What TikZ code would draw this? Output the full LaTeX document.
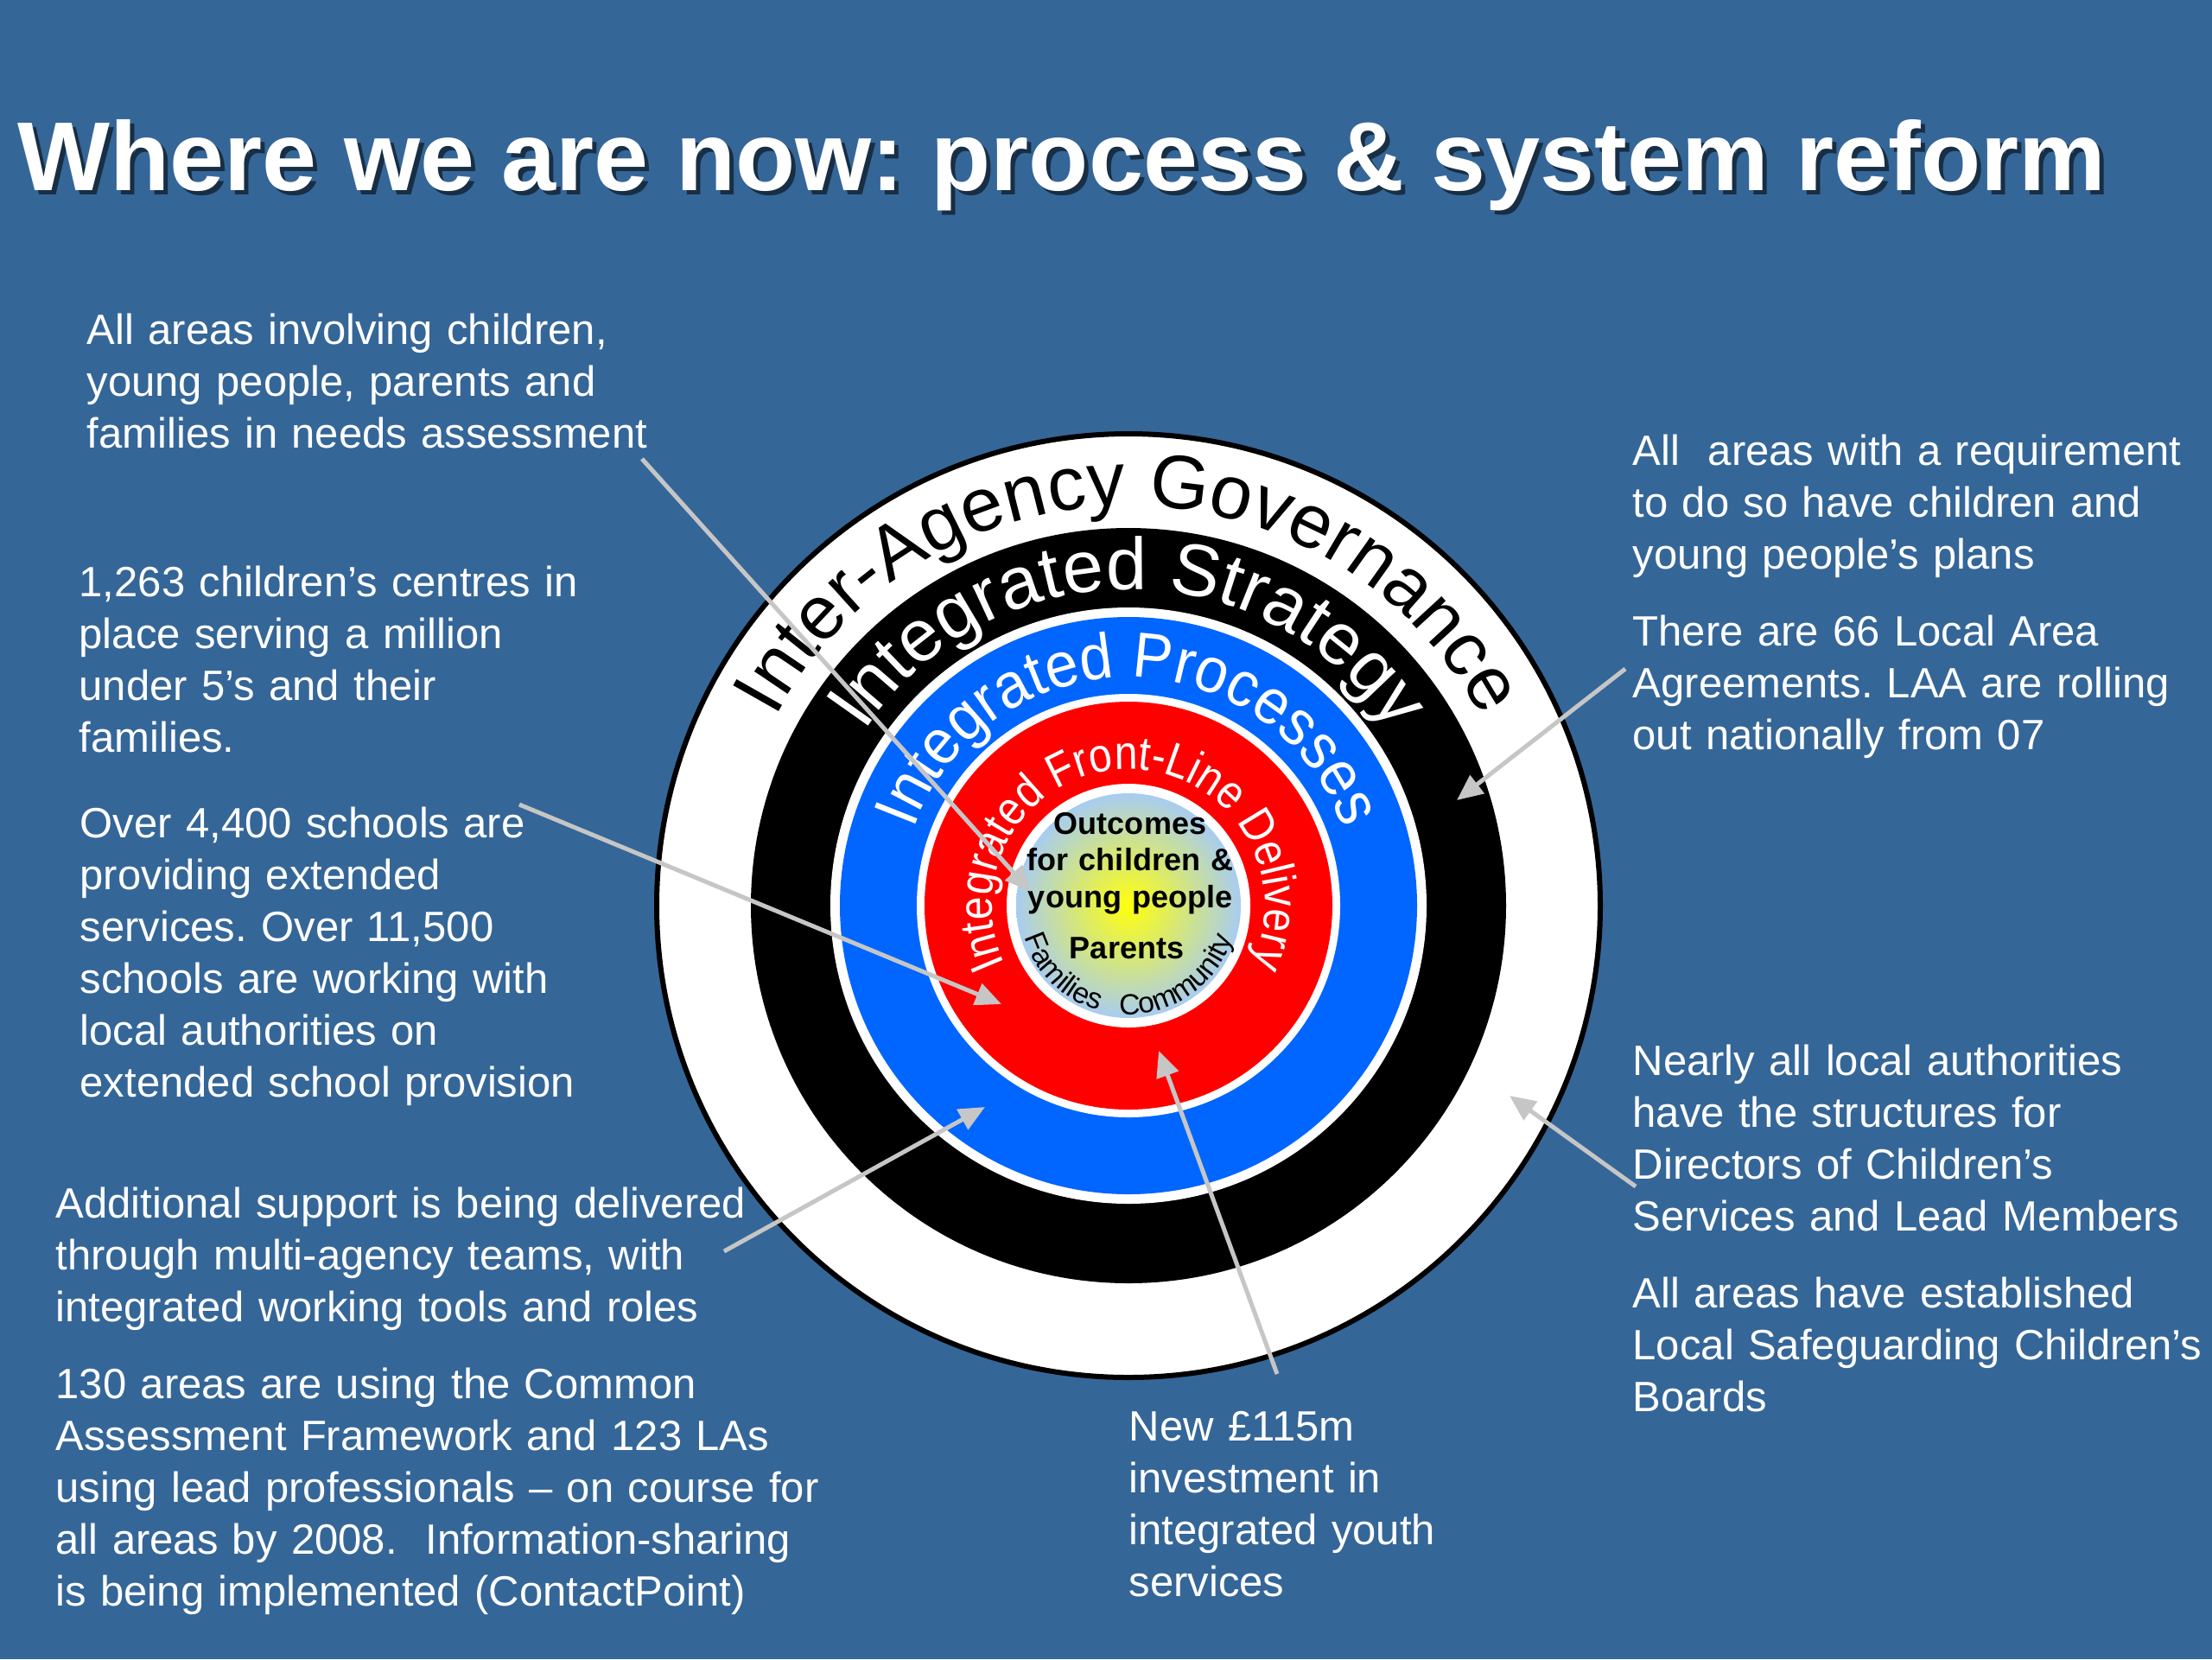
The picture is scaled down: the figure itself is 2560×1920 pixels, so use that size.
\documentclass[tikz,border=0pt]{standalone}
\usepackage{fontspec}
\setmainfont{Liberation Sans}
\newfontfamily\procfont[FakeStretch=0.93]{Liberation Sans}
\newfontfamily\frontfont[FakeStretch=0.87]{Liberation Sans}
\usetikzlibrary{decorations.text,arrows.meta}
\definecolor{bgblue}{RGB}{53,102,152}
\definecolor{ringblue}{RGB}{0,102,255}
\definecolor{ringred}{RGB}{255,0,0}
\definecolor{coreblue}{RGB}{168,204,240}
\definecolor{arrowgray}{RGB}{198,198,198}
\newcommand{\pxfont}[2]{\fontsize{#1}{#2}\selectfont}
\frenchspacing
\begin{document}
\begin{tikzpicture}[x=0.01cm,y=0.01cm,
  body/.style={anchor=base west, align=left, text=white, inner sep=0pt, text width=10cm, font=\pxfont{13.94pt}{17.07pt}},
  pointer/.style={draw=arrowgray, line width=0.5mm, -{Triangle[length=3mm,width=2.6mm]}},
  titlefont/.style={anchor=base west, inner sep=0pt, font=\bfseries\pxfont{32.2pt}{38pt}},
]
\fill[bgblue] (0,0) rectangle (2560,-1920);
\useasboundingbox (0,0) rectangle (2560,-1920);
\coordinate (c) at (1306,-1048);
% title
\node[titlefont, text=black, opacity=0.55] (titleshadow) at (25,-225) {Where we are now: process \& system reform};
\node[titlefont, text=white] (title) at (20,-220) {Where we are now: process \& system reform};
% rings
\filldraw[fill=white, draw=black, line width=0.6mm] (c) circle[radius=546];
\fill[black] (c) circle[radius=437];
\fill[white] (c) circle[radius=345];
\fill[ringblue] (c) circle[radius=334];
\fill[white] (c) circle[radius=245];
\fill[ringred] (c) circle[radius=236];
\fill[white] (c) circle[radius=141];
\shade[inner color=yellow!95!white, outer color=coreblue] (c) circle[radius=130];
% ring texts
\path[decorate, decoration={text along path, text align=center, text color=black,
  text={|\pxfont{25pt}{25pt}|Inter-Agency Governance}}]
  (c) ++(180:463) arc[start angle=180, end angle=0, radius=463];
\path[decorate, decoration={text along path, text align=center, text color=white,
  text={|\pxfont{24.2pt}{24.2pt}|Integrated Strategy}}]
  (c) ++(180:366) arc[start angle=180, end angle=0, radius=366];
\path[decorate, decoration={text along path, text align=center, text color=white,
  text={|\procfont\pxfont{21pt}{21pt}|Integrated Processes}}]
  (c) ++(200:264) arc[start angle=200, end angle=-20, radius=264];
\path[decorate, decoration={text along path, text align=center, text color=white,
  text={|\frontfont\pxfont{15.7pt}{15.7pt}|Integrated Front-Line Delivery}}]
  (c) ++(250:158) arc[start angle=250, end angle=-70, radius=158];
\path[decorate, decoration={text along path, text align=center, text color=black,
  text={|\pxfont{9.6pt}{9.6pt}|Families}}]
  (c) ++(195:126) arc[start angle=195, end angle=256, radius=126];
\path[decorate, decoration={text along path, text align=center, text color=black,
  text={|\pxfont{9.6pt}{9.6pt}|Community}}]
  (c) ++(265:126) arc[start angle=265, end angle=343, radius=126];
% core text
\node[anchor=base, align=center, inner sep=0pt, text width=2.6cm, font=\bfseries\pxfont{10.24pt}{12.1pt}] (outcomes) at (1308,-965) {Outcomes\\for children \&\\young people};
\node[anchor=base, inner sep=0pt, font=\bfseries\pxfont{10.24pt}{12.1pt}] (parents) at (1304,-1109) {Parents};
% text blocks
\node[body] (ta) at (100,-398) {All areas involving children,\\young people, parents and\\families in needs assessment};
\node[body] (tb) at (91,-690) {1,263 children’s centres in\\place serving a million\\under 5’s and their\\families.};
\node[body] (tc) at (92,-969) {Over 4,400 schools are\\providing extended\\services. Over 11,500\\schools are working with\\local authorities on\\extended school provision};
\node[body] (td) at (64,-1409) {Additional support is being delivered\\through multi-agency teams, with\\integrated working tools and roles};
\node[body] (te) at (64,-1618) {130 areas are using the Common\\Assessment Framework and 123 LAs\\using lead professionals – on course for\\all areas by 2008.~ Information-sharing\\is being implemented (ContactPoint)};
\node[body] (tf) at (1889,-538) {All~ areas with a requirement\\to do so have children and\\young people’s plans};
\node[body] (tg) at (1889,-747) {There are 66 Local Area\\Agreements. LAA are rolling\\out nationally from 07};
\node[body] (th) at (1889,-1244) {Nearly all local authorities\\have the structures for\\Directors of Children’s\\Services and Lead Members};
\node[body] (ti) at (1889,-1513) {All areas have established\\Local Safeguarding Children’s\\Boards};
\node[body] (tj) at (1306,-1667) {New £115m\\investment in\\integrated youth\\services};
% pointers
\coordinate (a1s) at (743,-531);  \coordinate (a1t) at (1193,-1032);
\coordinate (a2s) at (601,-931);  \coordinate (a2t) at (1159,-1162);
\coordinate (a3s) at (838,-1448); \coordinate (a3t) at (1140,-1281);
\coordinate (a4s) at (1478,-1590);\coordinate (a4t) at (1341,-1216);
\coordinate (a5s) at (1881,-774); \coordinate (a5t) at (1686,-926);
\coordinate (a6s) at (1893,-1373);\coordinate (a6t) at (1747,-1268);
\draw[pointer] (a1s) -- (a1t);
\draw[pointer] (a2s) -- (a2t);
\draw[pointer] (a3s) -- (a3t);
\draw[pointer] (a4s) -- (a4t);
\draw[pointer] (a5s) -- (a5t);
\draw[pointer] (a6s) -- (a6t);
\end{tikzpicture}
\end{document}
